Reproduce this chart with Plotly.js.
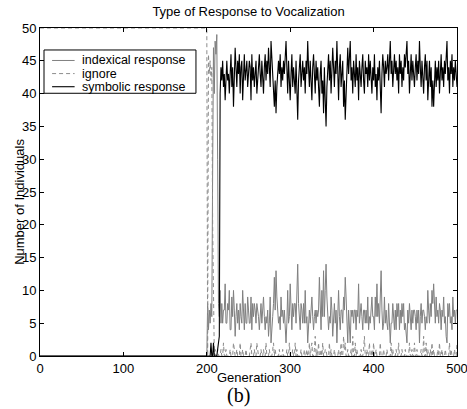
<!DOCTYPE html>
<html>
<head>
<meta charset="utf-8">
<script src="https://cdn.plot.ly/plotly-3.0.1.min.js"></script>
<style>html,body{margin:0;padding:0;background:#fff}#chart{width:467px;height:409px}</style>
</head>
<body>
<div id="chart"></div>
<script>
// Flat phase before the transition and the transition itself (generations listed explicitly)
const earlyGenerations = [0, 199, 200, 201, 202, 203, 204, 205, 206, 207, 208, 209, 210, 211, 212, 213, 214, 215];
const earlyIndexical  = [0, 0, 0, 8, 4, 7, 5, 8, 6, 28, 47, 40, 48, 46, 49, 30, 8, 6];
const earlyIgnore     = [50, 50, 50, 0, 46, 43, 45, 42, 44, 20, 2, 0, 1, 0, 0, 1, 0, 0];
const earlySymbolic   = [0, 0, 0, 0, 0, 0, 0, 2, 0, 0, 2, 0, 0, 0, 0, 1, 2, 3];

// Generations 216 .. 500, one value per generation
const lateStart = 216;
const lateSymbolic = [
 40,44,42,45,41,43,39,44,45,42, 43,40,45,46,41,44,38,42,47,44,
 41,45,43,46,40,44,45,39,43,46, 42,44,45,41,43,45,44,39,46,42,
 44,41,43,45,40,42,44,46,43,41, 45,43,40,44,46,42,45,43,47,44,
 41,48,45,43,40,38,42,37,41,44, 45,43,46,41,44,42,45,43,47,48,
 44,40,45,42,39,43,46,41,44,42, 40,45,38,36,42,44,46,41,43,45,
 42,44,40,45,43,48,44,41,45,42, 39,44,46,43,40,45,42,44,41,38,
 43,45,40,42,37,44,39,35,41,44, 46,42,45,40,43,47,44,41,45,43,
 48,42,39,44,46,41,43,45,38,42, 36,41,44,47,43,45,48,42,44,40,
 45,43,41,46,42,44,39,45,43,41, 44,46,42,40,45,43,44,41,46,42,
 45,43,40,44,42,46,41,43,39,44, 42,45,40,37,43,46,44,41,45,43,
 44,46,42,47,48,43,45,41,44,46, 43,45,42,44,40,46,43,45,41,44,
 42,46,44,47,48,43,45,40,44,46, 42,45,43,41,44,46,42,45,43,48,
 44,41,45,43,40,44,46,42,45,39, 43,45,41,44,38,42,38,43,45,41,
 44,42,45,40,43,46,42,44,41,45, 43,47,48,42,44,40,45,43,46,41,
 44,42,45,43,41
];
const lateIgnore = [
 0,1,0,0,2,0,0,1,0,0, 0,0,1,0,0,0,2,1,0,0,
 1,0,0,0,2,0,0,1,0,0, 0,1,0,0,0,0,1,2,0,0,
 0,1,0,0,2,1,0,0,0,1, 0,0,1,0,0,2,0,0,0,1,
 0,0,0,1,2,0,1,0,0,0, 0,1,0,0,0,1,0,0,0,0,
 1,0,0,2,0,0,0,1,0,0, 2,0,1,0,0,0,0,1,0,0,
 0,1,0,0,1,0,0,2,0,1, 2,0,0,1,3,0,1,0,2,0,
 0,1,0,2,0,0,1,1,0,0, 0,2,0,1,0,0,0,1,0,0,
 0,0,1,0,0,2,0,0,3,1, 2,0,0,1,0,0,0,1,0,3,
 0,0,2,0,1,0,0,0,0,1, 0,0,1,3,0,0,1,0,0,2,
 0,0,1,0,2,0,0,1,0,0, 0,0,2,0,0,0,1,0,0,0,
 1,0,0,0,0,2,0,1,0,0, 0,1,0,0,2,0,0,0,1,0,
 0,0,1,0,0,0,0,2,0,0, 1,0,0,2,0,0,1,0,0,0,
 0,1,0,0,3,0,0,2,0,1, 0,0,1,0,2,0,1,0,0,0,
 0,1,0,2,0,0,1,0,0,0, 1,0,0,0,0,2,0,1,0,0,
 0,1,0,0,2
];
const lateIndexical = [
 10,5,8,5,7,7,11,5,5,8, 7,10,4,4,9,6,10,7,3,6,
 8,5,7,4,8,6,5,10,7,4, 8,5,5,9,7,5,5,9,4,8,
 6,8,7,5,8,7,6,4,7,8, 5,7,9,6,4,6,5,7,3,5,
 9,2,5,6,8,12,7,13,9,6, 5,6,4,9,6,7,5,7,3,2,
 5,10,5,6,11,7,4,8,6,8, 8,5,11,14,8,6,4,8,7,5,
 8,5,10,5,6,2,6,7,5,7, 9,6,4,6,7,5,7,6,7,12,
 7,4,10,6,13,6,10,14,9,6, 4,6,5,9,7,3,6,8,5,7,
 2,8,10,6,4,7,7,5,9,7, 12,9,6,2,7,5,2,7,6,7,
 5,7,7,4,7,6,11,5,7,8, 6,4,7,7,5,7,5,9,4,6,
 5,7,9,6,6,4,9,6,11,6, 8,5,8,13,7,4,5,9,5,7,
 5,4,8,3,2,5,5,8,6,4, 7,4,8,6,8,4,7,5,8,6,
 8,4,5,3,2,7,5,8,6,4, 7,5,7,7,6,4,7,5,7,2,
 6,8,5,7,7,6,4,6,5,10, 7,5,8,6,10,8,11,7,5,9,
 6,7,5,8,7,4,7,6,9,5, 6,3,2,8,6,8,5,6,4,9,
 6,7,5,7,7
];

const seriesNames = ['indexical response', 'ignore', 'symbolic response'];
const xTicks = [0, 100, 200, 300, 400, 500];
const yTicks = [0, 5, 10, 15, 20, 25, 30, 35, 40, 45, 50];

const lateGenerations = lateSymbolic.map((_, i) => lateStart + i);
const gens = earlyGenerations.concat(lateGenerations);

const lineStyles = [
  {color: '#808080', width: 1},
  {color: '#8c8c8c', width: 1, dash: '4px,3px'},
  {color: '#000000', width: 1.1}
];
const seriesY = [
  earlyIndexical.concat(lateIndexical),
  earlyIgnore.concat(lateIgnore),
  earlySymbolic.concat(lateSymbolic)
];

const traces = seriesNames.map((n, i) => ({
  x: gens, y: seriesY[i], name: n, type: 'scatter', mode: 'lines', line: lineStyles[i], showlegend: false
}));

const FONT = 'Liberation Sans, Arial, Helvetica, sans-serif';
const axisCommon = {
  showgrid: false, zeroline: false, showline: true, linecolor: '#000', linewidth: 1,
  mirror: 'ticks', ticks: 'inside', ticklen: 4, tickcolor: '#000', tickwidth: 1,
  ticklabeloverflow: 'allow',
  tickfont: {family: FONT, size: 13, color: '#000'}
};

// hand-built legend (matches the compact MATLAB legend box)
const legRowsY = [0.901, 0.861, 0.821];
const shapes = [
  {type: 'rect', xref: 'paper', yref: 'paper', x0: 0.0096, x1: 0.374, y0: 0.801, y1: 0.933,
   line: {color: '#000', width: 1}, fillcolor: '#fff', layer: 'above'}
];
const annotations = [];
seriesNames.forEach((n, i) => {
  shapes.push({type: 'line', xref: 'paper', yref: 'paper', x0: 0.029, x1: 0.083, y0: legRowsY[i], y1: legRowsY[i],
               line: lineStyles[i], layer: 'above'});
  annotations.push({text: n, xref: 'paper', yref: 'paper', x: 0.098, y: legRowsY[i], xanchor: 'left', yanchor: 'middle',
                    showarrow: false, borderpad: 0, font: {family: FONT, size: 12.5, color: '#000'}});
});
annotations.push(
  {text: 'Number of Individuals', xref: 'paper', yref: 'paper', x: -0.048, y: 0.47, xanchor: 'center', yanchor: 'middle',
   textangle: -90, showarrow: false, borderpad: 0, font: {family: FONT, size: 13, color: '#000'}},
  {text: 'Generation', xref: 'paper', yref: 'paper', x: 0.5, y: -0.037, xanchor: 'center', yanchor: 'top',
   showarrow: false, font: {family: FONT, size: 13, color: '#000'}},
  {text: '(b)', xref: 'paper', yref: 'paper', x: 0.475, y: -0.119, xanchor: 'center', yanchor: 'middle',
   showarrow: false, borderpad: 0, font: {family: 'Liberation Serif, Times New Roman, serif', size: 20, color: '#000'}}
);

const layout = {
  width: 467, height: 409,
  margin: {l: 40, r: 10, t: 28, b: 53},
  paper_bgcolor: '#fff', plot_bgcolor: '#fff',
  font: {family: FONT, size: 13, color: '#000'},
  title: {text: 'Type of Response to Vocalization', xref: 'paper', x: 0.5, xanchor: 'center',
          yref: 'container', y: 0.983, yanchor: 'top', font: {family: FONT, size: 13, color: '#000'}},
  showlegend: false,
  xaxis: Object.assign({}, axisCommon, {range: [0, 500], tickvals: xTicks, ticktext: xTicks.map(String)}),
  yaxis: Object.assign({}, axisCommon, {range: [0, 50], tickvals: yTicks, ticktext: yTicks.map(String)}),
  shapes: shapes,
  annotations: annotations
};

Plotly.newPlot('chart', traces, layout, {displayModeBar: false, staticPlot: true});
</script>
</body>
</html>
